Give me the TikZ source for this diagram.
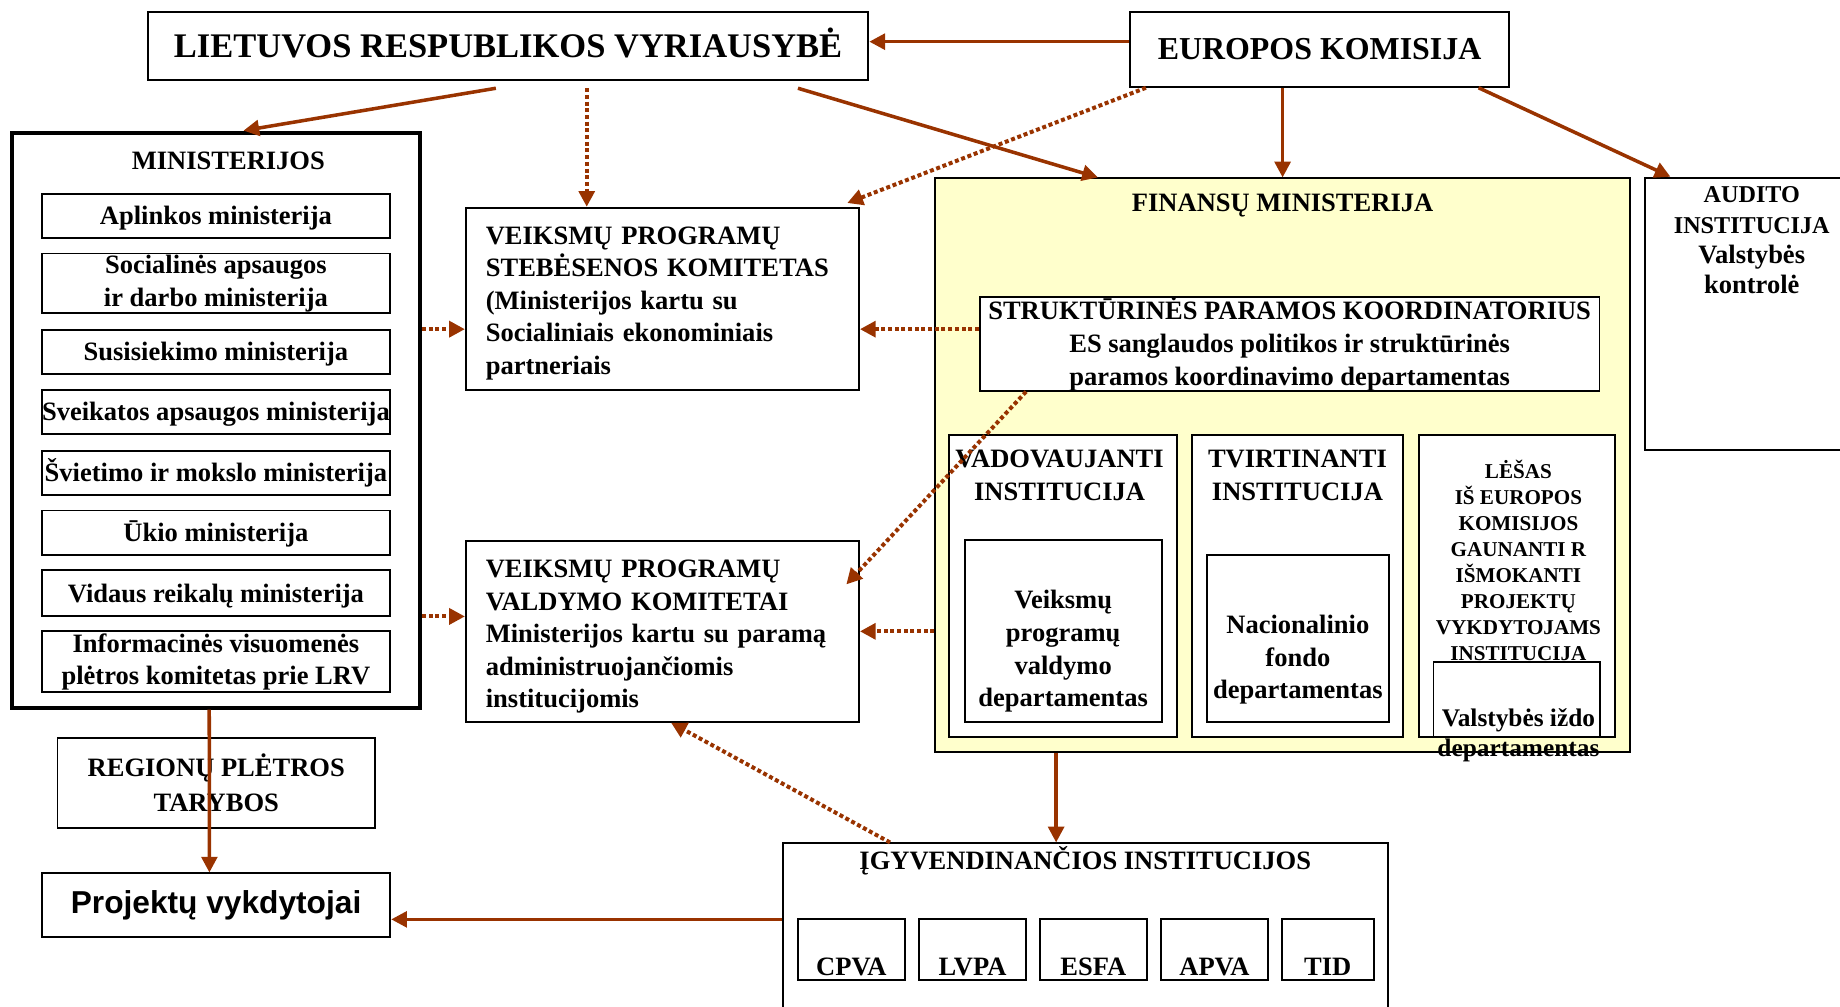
\documentclass[tikz,border=0pt]{standalone}
\usepackage{fontspec}
\setmainfont{Liberation Serif}
\newfontfamily\arialfont{Liberation Sans}
\usepackage{xcolor}
\usetikzlibrary{arrows.meta}
\definecolor{arrbrown}{HTML}{993300}
\definecolor{fmyellow}{HTML}{FFFFCC}

\begin{document}
\begin{tikzpicture}[x=0.5pt,y=-0.5pt,font=\fontsize{11.3}{13.8}\selectfont\bfseries]
                \tikzstyle{box}=[draw,line width=0.8pt,fill=white,inner sep=0pt,align=center]
                \tikzstyle{ministry}=[box,minimum width=148pt,minimum height=19pt]
                \tikzstyle{oneline}=[text height=9.5pt,text depth=2pt]
                \tikzstyle{agency}=[box,minimum width=45.5pt,minimum height=26pt]
                \tikzstyle{arr}=[color=arrbrown,line width=1.5pt,-{Triangle[length=6.7pt,width=6.7pt]}]
                \tikzstyle{dotarr}=[arr,line width=1.7pt,dash pattern=on 1.7pt off 1.15pt]
                \useasboundingbox (0,0) rectangle (1568,858);
                % virsus
                \node[box,minimum width=307pt,minimum height=29pt,text height=9.7pt,text depth=0pt,font=\fontsize{14.7}{16}\selectfont\bfseries](lrv) at (433,39){LIETUVOS RESPUBLIKOS VYRIAUSYBĖ};
                \node[box,minimum width=161.5pt,minimum height=32pt,text height=9pt,text depth=0pt,font=\fontsize{13.6}{16}\selectfont\bfseries](ek) at (1124.5,42){EUROPOS KOMISIJA};
                % ministerijos
                \node[box,line width=1.7pt,minimum width=174pt,minimum height=245pt,label={[xshift=5.3pt,yshift=110.6pt]center:MINISTERIJOS}](min) at (184,358){};
                \node[ministry,oneline](m1) at (184,184){Aplinkos ministerija};
                \node[ministry,minimum height=25.5pt,font=\fontsize{11.3}{14.2}\selectfont\bfseries](m2) at (184,241.5){Socialinės apsaugos\\ ir darbo ministerija};
                \node[ministry,oneline](m3) at (184,300){Susisiekimo ministerija};
                \node[ministry,oneline](m4) at (184,351){Sveikatos apsaugos ministerija};
                \node[ministry,oneline](m5) at (184,403){Švietimo ir mokslo ministerija};
                \node[ministry,oneline](m6) at (184,454){Ūkio ministerija};
                \node[ministry,oneline,minimum height=19.5pt](m7) at (184,505.5){Vidaus reikalų ministerija};
                \node[ministry,minimum height=26pt](m8) at (184,564){Informacinės visuomenės\\plėtros komitetas prie LRV};
                % komitetai
                \node[box,minimum width=167.5pt,minimum height=77.5pt,label={[text width=150.5pt,align=left,yshift=-2pt]center:VEIKSMŲ PROGRAMŲ\\STEBĖSENOS KOMITETAS\\(Ministerijos kartu su\\Socialiniais ekonominiais\\partneriais}](vpsk) at (564.5,254.5){};
                \node[box,minimum width=167.5pt,minimum height=77pt,label={[text width=150.5pt,align=left,yshift=-2.3pt]center:VEIKSMŲ PROGRAMŲ\\VALDYMO KOMITETAI\\Ministerijos kartu su paramą\\administruojančiomis\\institucijomis}](vpvk) at (564.5,538){};
                % finansu ministerija
                \node[box,fill=fmyellow,minimum width=296pt,minimum height=244.5pt,label={[yshift=110.7pt]center:FINANSŲ MINISTERIJA}](fm) at (1093,396.5){};
                \node[box,minimum width=264pt,minimum height=38.45pt,font=\fontsize{11.3}{14}\selectfont\bfseries](spk) at (1099,292.85){STRUKTŪRINĖS PARAMOS KOORDINATORIUS\\ES sanglaudos politikos ir struktūrinės\\paramos koordinavimo departamentas};
                \node[box,minimum width=97pt,minimum height=128.65pt,label={[xshift=-1.5pt,yshift=47.1pt,align=center]center:VADOVAUJANTI\\INSTITUCIJA}](vad) at (905.9,499.35){};
                \node[box,minimum width=84pt,minimum height=77.4pt,label={[yshift=-8.6pt,align=center,font=\fontsize{11.3}{14}\selectfont\bfseries]center:Veiksmų\\programų\\valdymo\\departamentas}](vpd) at (906,537.8){};
                \node[box,minimum width=90.15pt,minimum height=128.65pt,label={[yshift=47.1pt,align=center]center:TVIRTINANTI\\INSTITUCIJA}](tvi) at (1105.65,499.35){};
                \node[box,minimum width=77.6pt,minimum height=71pt,label={[yshift=-9.05pt,align=center]center:Nacionalinio\\fondo\\departamentas}](nfd) at (1106,544.2){};
                \node[box,minimum width=83.75pt,minimum height=128.65pt,label={[xshift=0.6pt,yshift=10.9pt,align=center,font=\fontsize{9}{11.05}\selectfont\bfseries]center:LĖŠAS\\IŠ EUROPOS\\KOMISIJOS\\GAUNANTI R\\IŠMOKANTI\\PROJEKTŲ\\VYKDYTOJAMS\\INSTITUCIJA}](les) at (1292.75,499.35){};
                \node[box,minimum width=70.75pt,minimum height=32.05pt,label={[xshift=0.8pt,yshift=-15.4pt,align=center,font=\fontsize{10.8}{12.8}\selectfont\bfseries]center:Valstybės iždo\\departamentas}](vid) at (1292.35,595.95){};
                % auditas
                \node[box,minimum width=86.6pt,minimum height=116.1pt,label={[xshift=2.2pt,yshift=31.3pt,align=center,font=\fontsize{10.3}{12.95}\selectfont\bfseries]center:AUDITO\\INSTITUCIJA\\\fontsize{11.3}{12.95}\selectfont Valstybės\\\fontsize{11.3}{12.95}\selectfont kontrolė}](aud) at (1488.4,267.5){};
                % apacia
                \node[box,minimum width=135.3pt,minimum height=38.65pt,font=\fontsize{11.3}{14.85}\selectfont\bfseries](rpt) at (184.3,667.25){REGIONŲ PLĖTROS\\TARYBOS};
                \node[box,minimum width=148.45pt,minimum height=26.95pt,font=\arialfont\fontsize{13.5}{16}\selectfont\bfseries](proj) at (184.15,771.25){Projektų vykdytojai};
                \node[box,minimum width=257.85pt,minimum height=80.65pt,label={[yshift=32.9pt]center:ĮGYVENDINANČIOS INSTITUCIJOS}](igy) at (924.85,799.35){};
                \node[agency,label={[yshift=-7.3pt]center:CPVA}](cpva) at (725.45,809.15){};
                \node[agency,label={[yshift=-7.3pt]center:LVPA}](lvpa) at (828.75,809.15){};
                \node[agency,label={[yshift=-7.3pt]center:ESFA}](esfa) at (931.65,809.15){};
                \node[agency,label={[yshift=-7.3pt]center:APVA}](apva) at (1034.95,809.15){};
                \node[agency,minimum width=39.1pt,label={[yshift=-7.3pt]center:TID}](tid) at (1131.4,809.15){};
                % rodykles
                \draw[arr] ([yshift=1.75pt]lrv.east -| ek.west) -- ([yshift=1.75pt]lrv.east);
                \draw[arr] ([xshift=-5.2pt,yshift=-3.2pt]lrv.south) -- ([xshift=11.75pt]min.north);
                \draw[dotarr] ([xshift=33.5pt,yshift=-3.2pt]lrv.south) -- ([xshift=-32.25pt]vpsk.north);
                \draw[arr] ([xshift=123.5pt,yshift=-3.2pt]lrv.south) -- ([xshift=-78.7pt]fm.north);
                \draw[dotarr] ([xshift=-74pt]ek.south) -- ([xshift=78.75pt,yshift=1.6pt]vpsk.north);
                \draw[arr] (ek.south -| fm.north) -- (fm.north);
                \draw[arr] ([xshift=67.75pt]ek.south) -- ([xshift=-32.45pt]aud.north);
                \draw[dotarr] ([yshift=-13pt]vpsk.west -| min.east) -- ([yshift=-13pt]vpsk.west);
                \draw[dotarr] ([yshift=6.35pt]vpvk.west -| min.east) -- ([yshift=6.35pt]vpvk.west);
                \draw[dotarr] ([yshift=-13pt]vpsk.east -| spk.west) -- ([yshift=-13pt]vpsk.east);
                \draw[dotarr] (vpvk.east -| fm.west) -- (vpvk.east);
                \draw[dotarr] ([xshift=-112.3pt]spk.south) -- ([xshift=-5.8pt,yshift=20pt]vpvk.east);
                \draw[dotarr] ([xshift=-83.2pt]igy.north) -- ([xshift=3.65pt]vpvk.south);
                \draw[arr] ([xshift=-96.5pt]fm.south) -- ([xshift=-96.5pt]fm.south |- igy.north);
                \draw[arr] ([xshift=-2.85pt]min.south) -- ([xshift=-2.85pt]proj.north);
                \draw[arr] ([yshift=-6.1pt]proj.east -| igy.west) -- ([yshift=-6.1pt]proj.east);
\end{tikzpicture}
\end{document}
